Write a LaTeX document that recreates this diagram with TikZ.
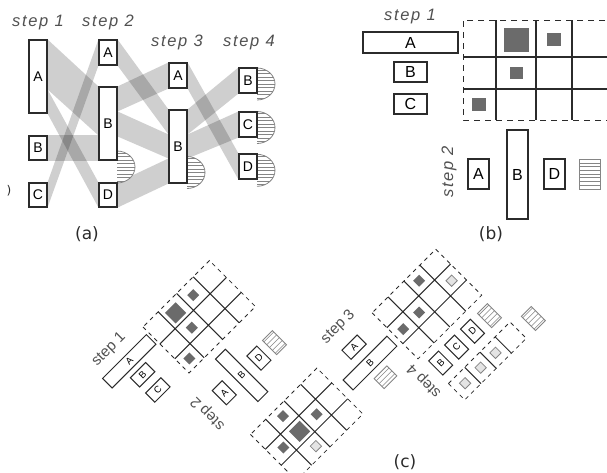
\documentclass[tikz,border=0pt]{standalone}
\usepackage{fontspec}
\setmainfont{Liberation Sans}
\newfontfamily\capfont{DejaVu Sans}
\newfontfamily\stepfont{Liberation Sans}[LetterSpace=10]
\usetikzlibrary{calc}
\pgfdeclarelayer{bands}
\pgfsetlayers{bands,main}

\definecolor{ink}{HTML}{2B2B2B}
\definecolor{steptext}{HTML}{505050}
\definecolor{cellfill}{HTML}{6B6B6B}
\definecolor{hatchgray}{HTML}{858585}
\definecolor{ghost}{HTML}{E4E4E4}

% half disc with horizontal hatching, flat side on the left at x=#1, centred at y=#2
\newcommand\halfdisc[2]{%
  \fill[white] ({#1},{#2+16}) arc[start angle=90,end angle=-90,x radius=18,y radius=16] -- cycle;
  \begin{scope}
    \clip ({#1},{#2+16}) arc[start angle=90,end angle=-90,x radius=18,y radius=16] -- cycle;
    \foreach \k in {-5,...,5}
      \draw[hatchline] ({#1},{#2+\k*3.5}) -- ({#1+20},{#2+\k*3.5});
  \end{scope}
  \draw[hatchedge] ({#1},{#2+16}) arc[start angle=90,end angle=-90,x radius=18,y radius=16];
}
% hatched rectangle: name, centre x, centre y, width, height, line gap
\newcommand\hatchrect[6]{%
  \node[hatchbox, minimum width=#4pt, minimum height=#5pt] (#1) at (#2,#3) {};
  \begin{scope}
    \clip ({#2-#4/2},{#3-#5/2}) rectangle ({#2+#4/2},{#3+#5/2});
    \foreach \k in {-10,...,10}
      \draw[hatchline] ({#2-#4/2},{#3+\k*#6}) -- ({#2+#4/2},{#3+\k*#6});
  \end{scope}
}
\newcommand\darkcell[3]{\fill[cellfill] ({#1-#3/2},{#2-#3/2}) rectangle ({#1+#3/2},{#2+#3/2});}
\newcommand\lightcell[3]{\filldraw[fill=ghost, draw=hatchgray, line width=0.8pt] ({#1-#3/2},{#2-#3/2}) rectangle ({#1+#3/2},{#2+#3/2});}

\begin{document}
\begin{tikzpicture}[x=1pt,y=-1pt,
  abox/.style={draw=ink, line width=1.1pt, fill=white, inner sep=0pt, minimum width=18pt,
               font=\fontsize{14}{14}\selectfont},
  bbox/.style={draw=ink, line width=1.1pt, fill=white, inner sep=0pt,
               font=\fontsize{16}{16}\selectfont},
  cbox/.style={draw=ink, line width=1pt, fill=white, inner sep=0pt,
               font=\fontsize{9.5}{10}\selectfont},
  hatchbox/.style={draw=hatchgray, line width=0.9pt, fill=white, inner sep=0pt},
  hatchline/.style={draw=hatchgray, line width=0.55pt},
  hatchedge/.style={draw=hatchgray, line width=0.8pt},
  band/.style={fill=black, fill opacity=0.19},
  steplabel/.style={text=steptext, inner sep=0pt, font=\stepfont\itshape\fontsize{16.5}{18}\selectfont},
  csteplabel/.style={text=steptext, inner sep=0pt, font=\fontsize{15}{16}\selectfont},
  caption/.style={inner sep=0pt, text=ink, font=\capfont\fontsize{17}{18}\selectfont},
  gridouter/.style={draw=ink, line width=0.9pt, dash pattern=on 6pt off 5pt},
  gridline/.style={draw=ink, line width=1.1pt},
  cdash/.style={draw=ink, line width=0.8pt, dash pattern=on 4pt off 4pt},
  cgrid/.style={draw=ink, line width=1pt}]

\useasboundingbox (0,0) rectangle (607,472);
\clip (0,0) rectangle (607,472);

%% ---------------- (a) flows between four steps ----------------
\node[steplabel, anchor=base] (as1) at (38,26) {step 1};
\node[steplabel, anchor=base] (as2) at (108,26) {step 2};
\node[steplabel, anchor=base] (as3) at (177,46.5) {step 3};
\node[steplabel, anchor=base] (as4) at (249,46.5) {step 4};

\halfdisc{117}{167}
\halfdisc{187}{172.5}
\halfdisc{257}{84}
\halfdisc{257}{127.5}
\halfdisc{257}{170.3}

\node[abox, minimum height=73pt] (a1A) at (38,76.5) {A};
\node[abox, minimum height=24pt] (a1B) at (38,148) {B};
\node[abox, minimum height=24pt] (a1C) at (38,195) {C};
\node[abox, minimum height=25pt] (a2A) at (108,52.5) {A};
\node[abox, minimum height=73pt] (a2B) at (108,123.5) {B};
\node[abox, minimum height=24pt] (a2D) at (108,195) {D};
\node[abox, minimum height=25pt] (a3A) at (178,75.5) {A};
\node[abox, minimum height=73pt] (a3B) at (178,146.5) {B};
\node[abox, minimum height=25pt] (a4B) at (248,80.5) {B};
\node[abox, minimum height=25pt] (a4C) at (248,124.5) {C};
\node[abox, minimum height=25pt] (a4D) at (248,166.5) {D};

\node[inner sep=0pt, text=ink, font=\capfont\fontsize{12}{12}\selectfont] (frag) at (9,191) {)};

\begin{pgfonlayer}{bands}
  \fill[band] (a1A.north east) -- (a2B.north west) -- ([yshift=-49pt]a2B.north west) -- ([yshift=-50pt]a1A.north east) -- cycle;
  \fill[band] ([yshift=-50pt]a1A.north east) -- (a2D.north west) -- (a2D.south west) -- (a1A.south east) -- cycle;
  \fill[band] (a1B.north east) -- ([yshift=-49pt]a2B.north west) -- (a2B.south west) -- (a1B.south east) -- cycle;
  \fill[band] (a1C.north east) -- (a2A.north west) -- (a2A.south west) -- (a1C.south east) -- cycle;
  \fill[band] (a2A.north east) -- (a3B.north west) -- ([yshift=-25pt]a3B.north west) -- (a2A.south east) -- cycle;
  \fill[band] (a2B.north east) -- (a3A.north west) -- (a3A.south west) -- ([yshift=-25pt]a2B.north east) -- cycle;
  \fill[band] ([yshift=-25pt]a2B.north east) -- ([yshift=-25pt]a3B.north west) -- ([yshift=-49pt]a3B.north west) -- ([yshift=-50pt]a2B.north east) -- cycle;
  \fill[band] (a2D.north east) -- ([yshift=-49pt]a3B.north west) -- (a3B.south west) -- (a2D.south east) -- cycle;
  \fill[band] (a3A.north east) -- (a4D.north west) -- (a4D.south west) -- (a3A.south east) -- cycle;
  \fill[band] (a3B.north east) -- (a4B.north west) -- (a4B.south west) -- ([yshift=-25pt]a3B.north east) -- cycle;
  \fill[band] ([yshift=-25pt]a3B.north east) -- (a4C.north west) -- (a4C.south west) -- ([yshift=-49pt]a3B.north east) -- cycle;
\end{pgfonlayer}

\node[caption] (capa) at (87,234) {(a)};

%% ---------------- (b) matrix between step 1 and step 2 ----------------
\node[steplabel, anchor=base] (bs1) at (410,20.7) {step 1};
\node[bbox, minimum width=95pt, minimum height=21pt] (b1A) at (410.5,42.5) {A};
\node[bbox, minimum width=33pt, minimum height=20pt] (b1B) at (410.5,72) {B};
\node[bbox, minimum width=33pt, minimum height=20pt] (b1C) at (410.5,104) {C};

\draw[gridouter] (616,20) -- (463,20) -- (463,120) -- (616,120);
\draw[gridline] (496,20) -- (496,120) (536,20) -- (536,120) (572,20) -- (572,120)
                (463,57) -- (616,57) (463,89) -- (616,89);
\fill[cellfill] (504,28) rectangle (529,52);
\fill[cellfill] (547,33) rectangle (561,46);
\fill[cellfill] (510,67) rectangle (523,79);
\fill[cellfill] (472,98) rectangle (486,111);

\node[steplabel, rotate=90] (bs2) at (449,172) {step 2};
\node[bbox, minimum width=21pt, minimum height=30pt] (b2A) at (478.5,174) {A};
\node[bbox, minimum width=21pt, minimum height=89pt] (b2B) at (517.5,174.5) {B};
\node[bbox, minimum width=21pt, minimum height=30pt] (b2D) at (554.5,174) {D};
\hatchrect{b2X}{589.5}{174}{21}{30}{3.7}

\node[caption] (capb) at (491,234) {(b)};

%% ---------------- (c) chained matrices, turned by 45 degrees ----------------
\begin{scope}[shift={(143,327)}, rotate=45, transform shape]
  % grid: step 1 -> step 2
  \draw[cdash] (0,0) rectangle (94,65);
  \draw[cgrid] (21.5,0) -- (21.5,65) (47.5,0) -- (47.5,65) (71,0) -- (71,65)
               (0,24) -- (94,24) (0,45) -- (94,45);
  \darkcell{33}{13}{15}
  \darkcell{58}{13}{8.5}
  \darkcell{34}{35}{8.5}
  \darkcell{10.5}{55}{8.5}

  % grid: step 2 -> step 3
  \draw[cdash] (0,152) rectangle (94,217);
  \draw[cgrid] (21.5,152) -- (21.5,217) (47.5,152) -- (47.5,217) (71,152) -- (71,217)
               (0,173) -- (94,173) (0,195.5) -- (94,195.5);
  \darkcell{36}{162}{8.5}
  \darkcell{37}{184.5}{15}
  \darkcell{61}{184.5}{8.5}
  \darkcell{14}{184.5}{8.5}
  \lightcell{38}{206.5}{8}

  % grid: step 3 -> step 4
  \draw[cdash] (172,152) rectangle (262,217);
  \draw[cgrid] (194.5,152) -- (194.5,217) (217,152) -- (217,217) (239.5,152) -- (239.5,217)
               (172,173) -- (262,173) (172,195.5) -- (262,195.5);
  \darkcell{228}{162.5}{8.5}
  \darkcell{205.5}{185}{8.5}
  \darkcell{182.5}{185.5}{8.5}
  \lightcell{251}{185.5}{8}

  % single row after step 4
  \draw[cdash] (176,256) rectangle (263,279);
  \draw[cgrid] (199,256) -- (199,279) (220.5,256) -- (220.5,279) (242,256) -- (242,279);
  \lightcell{188}{267.5}{8}
  \lightcell{210}{267.5}{8}
  \lightcell{231}{267.5}{8}
  \hatchrect{c5X}{282}{270}{14}{20}{4}

  % step 1
  \node[csteplabel] (cs1) at (-40,-8) {step 1};
  \node[cbox, minimum width=62pt, minimum height=13.5pt] (c1A) at (-34,14.5) {A};
  \node[cbox, minimum width=21.5pt, minimum height=13pt] (c1B) at (-34,33.5) {B};
  \node[cbox, minimum width=21.5pt, minimum height=13pt] (c1C) at (-34,55) {C};

  % step 2
  \node[csteplabel, rotate=90] (cs2) at (-15,107) {step 2};
  \node[cbox, minimum width=14pt, minimum height=20pt] (c2A) at (11,104) {A};
  \node[cbox, minimum width=14pt, minimum height=60pt] (c2B) at (35.5,104) {B};
  \node[cbox, minimum width=14pt, minimum height=20pt] (c2D) at (60,104) {D};
  \hatchrect{c2X}{82}{104}{14}{20}{4}

  % step 3
  \node[csteplabel] (cs3) at (138,138) {step 3};
  \node[cbox, minimum width=21.5pt, minimum height=13pt] (c3A) at (135,163.5) {A};
  \node[cbox, minimum width=62pt, minimum height=14pt] (c3B) at (135,186) {B};
  \hatchrect{c3X}{136}{207}{18}{14}{4}

  % step 4
  \node[csteplabel, rotate=90] (cs4) at (161,237) {step 4};
  \node[cbox, minimum width=14pt, minimum height=20pt] (c4B) at (185,236) {B};
  \node[cbox, minimum width=14pt, minimum height=20pt] (c4C) at (207.5,236) {C};
  \node[cbox, minimum width=14pt, minimum height=20pt] (c4D) at (230,236) {D};
  \hatchrect{c4X}{253}{237}{14}{20}{4}
\end{scope}

\node[caption] (capc) at (405,462) {(c)};
\end{tikzpicture}
\end{document}
